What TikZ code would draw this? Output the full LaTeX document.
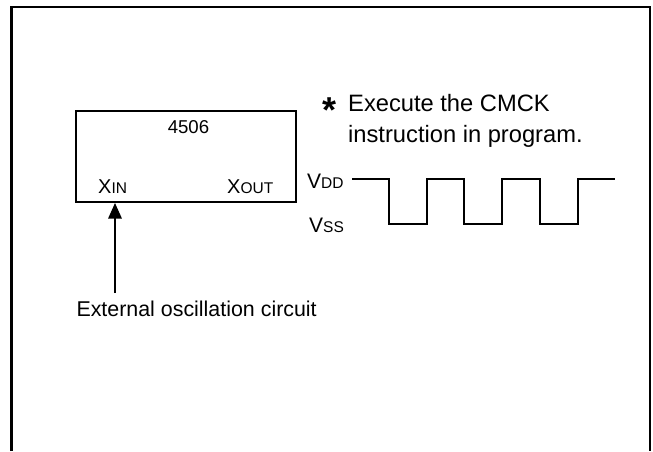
\documentclass[tikz,border=0pt]{standalone}
\usepackage{fontspec}
\setmainfont{Liberation Sans}
\usetikzlibrary{arrows.meta}
\tikzset{
 frame/.style={line width=2.2pt,black},
 wire/.style={line width=1.8pt,black},
 lbl/.style={inner sep=0pt,anchor=base west,font=\fontsize{21.4}{24}\selectfont},
 big/.style={inner sep=0pt,anchor=base west,font=\fontsize{23.7}{27}\selectfont}
}
\newcommand{\smc}[3]{{\fontsize{#3}{24}\selectfont #1}{\fontsize{15.5}{18}\selectfont #2}}
\begin{document}
\begin{tikzpicture}[x=1pt,y=-1pt]
\useasboundingbox (0,0) rectangle (653,451);
\coordinate (fa) at (11.5,451); \coordinate (fb) at (11.5,7); \coordinate (fc) at (650,7); \coordinate (fd) at (650,451);
\draw[frame] (fa) -- (fb) -- (fc) -- (fd);
\node[draw,line width=2pt,minimum width=219.7pt,minimum height=90.7pt,inner sep=0pt,anchor=north west] (chip) at (75.3,110) {};
\node[lbl,anchor=base] (n4506) at (188.5,133.3) {\fontsize{18.6}{21}\selectfont 4506};
\node[lbl] (xin) at (98,193) {\smc{X}{IN}{20}};
\node[lbl] (xout) at (227,193) {\smc{X}{OUT}{20}};
\coordinate (atip) at (115,203);
\node[lbl,anchor=base west] (ext) at (76.3,316.7) {External oscillation circuit};
\coordinate (atail) at (115,293);
\draw[wire,line width=1.4pt,-{Triangle[length=15.5pt,width=13.5pt]}] (atail) -- (atip);
\node[inner sep=0pt,anchor=base west,font=\fontsize{36}{38}\selectfont\bfseries] (star) at (322,122.5) {*};
\node[big] (l1) at (348,111.7) {Execute the CMCK};
\node[big] (l2) at (348,142.7) {instruction in program.};
\node[lbl] (vdd) at (307,188) {\smc{V}{DD}{21}};
\node[lbl] (vss) at (309,232) {\smc{V}{SS}{21}};
\coordinate (w0) at (352,179);
\draw[wire,line join=miter] (w0) -- (389,179) -- (389,224) -- (427,224) -- (427,179) -- (464,179) -- (464,224) -- (502,224) -- (502,179) -- (540,179) -- (540,224) -- (578,224) -- (578,179) -- (615,179);
\end{tikzpicture}
\end{document}
